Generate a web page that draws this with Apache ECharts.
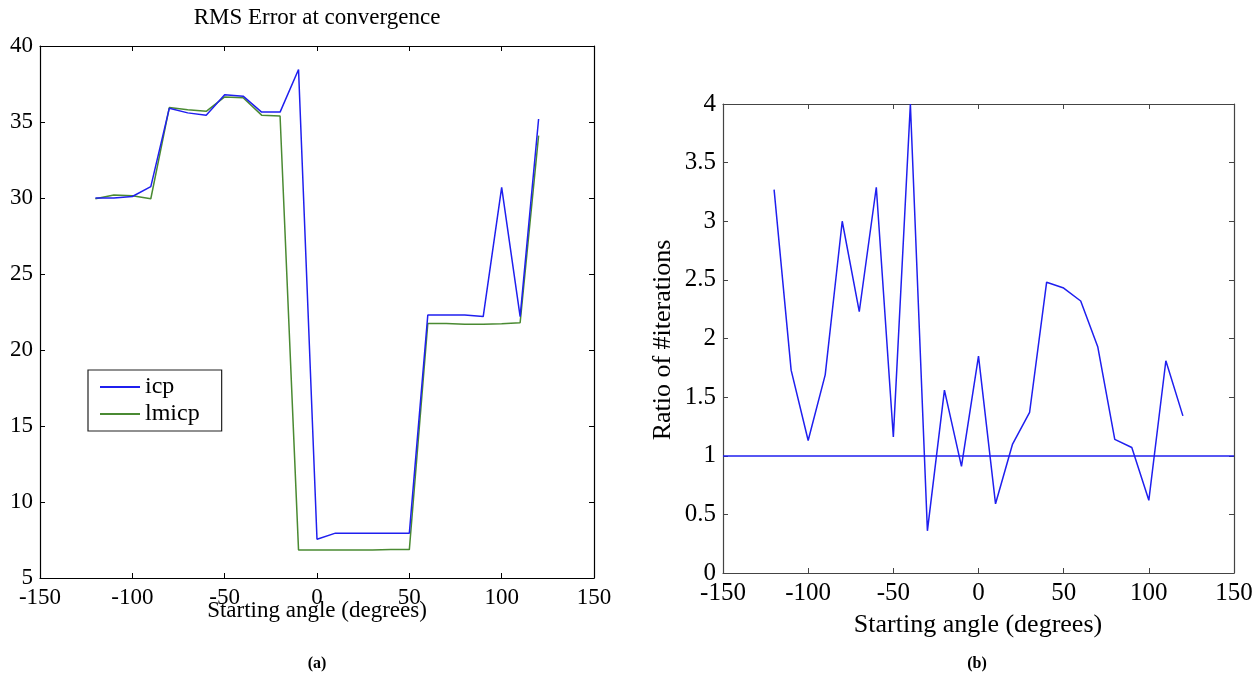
<!DOCTYPE html>
<html><head><meta charset="utf-8">
<script src="https://cdn.jsdelivr.net/npm/echarts@6/dist/echarts.min.js"></script>
<style>html,body{margin:0;padding:0;background:#fff}#c{width:1260px;height:695px}</style>
</head><body><div id="c"></div>
<script>
const angles = [-120,-110,-100,-90,-80,-70,-60,-50,-40,-30,-20,-10,0,10,20,30,40,50,60,70,80,90,100,110,120];
const icpRms = [30.0,30.0,30.1,30.75,35.9,35.6,35.45,36.8,36.7,35.65,35.65,38.45,7.55,7.95,7.95,7.95,7.95,7.95,22.3,22.3,22.3,22.2,30.7,22.2,35.2];
const lmicpRms = [29.95,30.2,30.15,29.95,35.95,35.8,35.7,36.65,36.6,35.45,35.4,6.85,6.85,6.85,6.85,6.85,6.87,6.87,21.75,21.75,21.7,21.7,21.72,21.8,34.1];
const iterRatio = [3.27,1.73,1.13,1.69,3.0,2.23,3.29,1.16,4.0,0.36,1.56,0.91,1.85,0.59,1.1,1.37,2.48,2.43,2.32,1.93,1.14,1.07,0.62,1.81,1.34];
const leftXTicks = [-150,150,50];
const leftYTicks = [5,40,5];
const rightYTicks = [0,4,0.5];
const refLine = 1;

const serif = 'Liberation Serif';
const blue = '#1f1fef';
const green = '#4a8a32';
const pairs = (xs, ys) => xs.map((x, i) => [x, ys[i]]);

function axisX(grid, pos, show, color, fs) {
  return {type:'value', gridIndex:grid, position:pos, min:leftXTicks[0], max:leftXTicks[1], interval:leftXTicks[2],
    axisLine:{show:true, onZero:false, lineStyle:{color:color, width:1.2}},
    axisTick:{show:true, inside:true, length:5, lineStyle:{color:color}},
    axisLabel:{show:show, color:'#000', fontFamily:serif, fontSize:fs, margin:8},
    splitLine:{show:false}};
}
function axisY(grid, pos, show, color, fs, t) {
  return {type:'value', gridIndex:grid, position:pos, min:t[0], max:t[1], interval:t[2],
    axisLine:{show:true, onZero:false, lineStyle:{color:color, width:1.2}},
    axisTick:{show:true, inside:true, length:5, lineStyle:{color:color}},
    axisLabel:{show:show, color:'#000', fontFamily:serif, fontSize:fs, margin:7},
    splitLine:{show:false}};
}

const chart = echarts.init(document.getElementById('c'));
chart.setOption({
  animation:false,
  backgroundColor:'#fff',
  grid:[
    {left:40, top:46, width:554, height:532},
    {left:723, top:104, width:511, height:469}
  ],
  xAxis:[
    axisX(0,'bottom',true,'#000',23),
    axisX(0,'top',false,'#000',23),
    axisX(1,'bottom',true,'#444',25),
    axisX(1,'top',false,'#444',25)
  ],
  yAxis:[
    axisY(0,'left',true,'#000',23,leftYTicks),
    axisY(0,'right',false,'#000',23,leftYTicks),
    axisY(1,'left',true,'#444',25,rightYTicks),
    axisY(1,'right',false,'#444',25,rightYTicks)
  ],
  legend:{
    left:88, top:370, orient:'vertical', backgroundColor:'#fff',
    borderColor:'#222', borderWidth:1.2, borderRadius:0, padding:[5,22,5,12], itemGap:3,
    icon:'rect', itemWidth:40, itemHeight:2,
    textStyle:{fontFamily:serif, fontSize:24, color:'#000'},
    data:['icp','lmicp']
  },
  series:[
    {name:'icp', type:'line', xAxisIndex:0, yAxisIndex:0, data:pairs(angles, icpRms), showSymbol:false,
      lineStyle:{color:blue, width:1.5}, itemStyle:{color:blue}, z:3},
    {name:'lmicp', type:'line', xAxisIndex:0, yAxisIndex:0, data:pairs(angles, lmicpRms), showSymbol:false,
      lineStyle:{color:green, width:1.5}, itemStyle:{color:green}, z:2},
    {name:'ratio', type:'line', xAxisIndex:2, yAxisIndex:2, data:pairs(angles, iterRatio), showSymbol:false,
      lineStyle:{color:blue, width:1.5}, itemStyle:{color:blue},
      markLine:{silent:true, symbol:['none','none'], label:{show:false},
        lineStyle:{color:blue, width:1.5, type:'solid'}, data:[{yAxis:refLine}]}}
  ],
  graphic:[
    {type:'text', position:[317,18], style:{text:'RMS Error at convergence', fontFamily:serif, fontSize:23, fill:'#000', textAlign:'center', textVerticalAlign:'middle'}},
    {type:'text', position:[317,611], style:{text:'Starting angle (degrees)', fontFamily:serif, fontSize:23, fill:'#000', textAlign:'center', textVerticalAlign:'middle'}},
    {type:'text', position:[978,625], style:{text:'Starting angle (degrees)', fontFamily:serif, fontSize:26, fill:'#000', textAlign:'center', textVerticalAlign:'middle'}},
    {type:'text', position:[663,340], rotation:Math.PI/2, style:{text:'Ratio of #iterations', fontFamily:serif, fontSize:26, fill:'#000', textAlign:'center', textVerticalAlign:'middle'}},
    {type:'text', position:[317,664], style:{text:'(a)', fontFamily:serif, fontSize:16, fontWeight:'bold', fill:'#000', textAlign:'center', textVerticalAlign:'middle'}},
    {type:'text', position:[977,664], style:{text:'(b)', fontFamily:serif, fontSize:16, fontWeight:'bold', fill:'#000', textAlign:'center', textVerticalAlign:'middle'}}
  ]
});
</script></body></html>
